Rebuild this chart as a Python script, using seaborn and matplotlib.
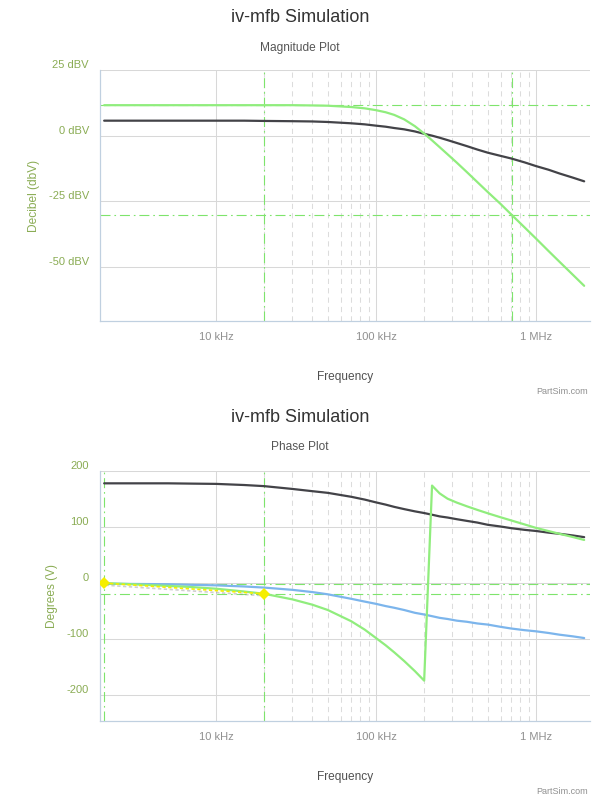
import pandas as pd
import matplotlib
matplotlib.use('Agg')
import matplotlib.pyplot as plt
import matplotlib.patheffects as pe
from matplotlib.ticker import NullFormatter
import seaborn as sns

freq = [2e3, 3e3, 5e3, 7e3, 10e3, 15e3, 20e3, 30e3, 40e3, 50e3, 70e3, 85e3,
        100e3, 115e3, 130e3, 150e3, 175e3, 200e3, 224e3, 250e3, 280e3, 320e3,
        370e3, 430e3, 500e3, 600e3, 700e3, 850e3, 1e6, 1.2e6, 1.4e6, 1.7e6, 2e6]

# magnitude (dBV)
mag_dark = [5.7, 5.7, 5.7, 5.7, 5.7, 5.7, 5.6, 5.5, 5.4, 5.2, 4.7, 4.3,
            3.8, 3.4, 2.9, 2.4, 1.6, 0.7, 0.0, -0.8, -1.7, -2.8,
            -4.0, -5.3, -6.5, -7.7, -8.7, -10.2, -11.6, -13.0, -14.4, -16.0, -17.4]
mag_green = [11.6, 11.6, 11.6, 11.6, 11.6, 11.6, 11.6, 11.6, 11.5, 11.4, 10.9, 10.4,
             9.7, 8.9, 7.9, 6.2, 3.6, 0.8, -1.8, -4.4, -7.1, -10.3,
             -13.9, -17.7, -21.5, -26.0, -30.0, -35.0, -39.2, -44.0, -48.0, -53.0, -57.2]

# phase (degrees)
phase_blue = [-1, -1.5, -2, -3, -4, -6, -8, -12, -16, -20, -28, -33,
              -37, -41, -44, -48, -53, -56, -59, -62, -64, -67,
              -69, -72, -74, -78, -81, -84, -86, -89, -92, -95, -98]
phase_dark = [178, 178, 178, 177.5, 177, 175, 173, 168, 164, 161, 154, 149,
              144, 140, 136, 132, 128, 125, 122, 119, 117, 114,
              111, 108, 104, 101, 98, 95, 93, 90, 88, 85, 82]
phase_green = [0, -2, -5, -7, -10, -15, -19, -29, -38.5, -48, -68, -83,
               -98, -111, -123.5, -139, -157, -174, 174, 160, 150.6, 143.6,
               137, 130.6, 124.5, 117.5, 111.8, 104.6, 98.5, 92.8, 88, 82.2, 77]

# cursors
mag_cursor_f = [20e3, 708e3]
mag_cursor_db = [11.6, -30.2]
phase_cursor_f = [2e3, 20e3]
phase_cursor_deg = [-1, -19]
phase_marker_deg = [0, -19]

xticks = [1e4, 1e5, 1e6]
xtick_labels = ['10 kHz', '100 kHz', '1 MHz']
minor_ticks = [20e3, 30e3, 40e3, 50e3, 60e3, 70e3, 80e3, 90e3,
               200e3, 300e3, 400e3, 500e3, 600e3, 700e3, 800e3, 900e3]
mag_ticks = [25, 0, -25, -50]
mag_tick_labels = ['25 dBV', '0 dBV', '-25 dBV', '-50 dBV']
phase_ticks = [200, 100, 0, -100, -200]
phase_tick_labels = ['200', '100', '0', '-100', '-200']

BLUE = '#7cb5ec'
DARK = '#434348'
GREEN = '#90ed7d'
CURSOR = '#7ee46c'
OLIVE = '#8aac54'

sns.set_style('white')
plt.rcParams['font.family'] = ['Liberation Sans', 'DejaVu Sans']

fig = plt.figure(figsize=(6, 8), dpi=100)
ax1 = fig.add_axes([100/600, 1-321/800, 490/600, 251/800])
ax2 = fig.add_axes([100/600, 1-721/800, 490/600, 250/800])


def style_axis(ax, ylim, ticks, labels, ylabel, ylabel_x):
    ax.set_xscale('log')
    ax.set_xlim(1884, 2.175e6)
    ax.set_ylim(*ylim)
    ax.set_xticks(xticks, labels=xtick_labels)
    ax.set_xticks(minor_ticks, minor=True)
    ax.xaxis.set_minor_formatter(NullFormatter())
    ax.set_yticks(ticks, labels=labels)
    ax.grid(which='major', color='#d8d8d8', lw=0.75)
    ax.grid(which='minor', axis='x', color='#dcdcdc', lw=0.75, linestyle=(0, (5, 4)))
    ax.set_axisbelow(True)
    for s in ['top', 'right']:
        ax.spines[s].set_visible(False)
    for s in ['left', 'bottom']:
        ax.spines[s].set_color('#c0d0e0')
        ax.spines[s].set_linewidth(0.9)
    ax.tick_params(axis='x', which='major', length=4, width=0.8, color='#c0d0e0',
                   labelcolor='#909090', labelsize=8, pad=4)
    ax.tick_params(axis='x', which='minor', length=0)
    ax.tick_params(axis='y', length=0, labelcolor=OLIVE, labelsize=8, pad=8)
    for lbl in ax.get_yticklabels():
        lbl.set_verticalalignment('bottom')
    ax.set_ylabel(ylabel, color=OLIVE, fontsize=8.6)
    ax.yaxis.set_label_coords(ylabel_x, 0.5)
    ax.set_xlabel('Frequency', color='#505050', fontsize=8.6)
    ax.xaxis.set_label_coords(0.5, -0.2)


def cursor_lines(ax, fs, ys):
    for f in fs:
        ax.axvline(f, color=CURSOR, lw=0.8, linestyle=(0, (9, 3.5, 1.5, 3.5)), zorder=1.5)
    for y in ys:
        ax.axhline(y, color=CURSOR, lw=0.8, linestyle=(0, (9, 3.5, 1.5, 3.5)), zorder=1.5)


# --- magnitude plot ---
mag = pd.DataFrame({'f': freq, 'dark': mag_dark, 'green': mag_green})
cursor_lines(ax1, mag_cursor_f, mag_cursor_db)
sns.lineplot(data=mag, x='f', y='dark', ax=ax1, color=DARK, lw=1.6, estimator=None, sort=False)
sns.lineplot(data=mag, x='f', y='green', ax=ax1, color=GREEN, lw=1.6, estimator=None, sort=False)
style_axis(ax1, (-70.6, 25), mag_ticks, mag_tick_labels, 'Decibel (dbV)', -0.123)

# --- phase plot ---
ph = pd.DataFrame({'f': freq, 'blue': phase_blue, 'dark': phase_dark, 'green': phase_green})
cursor_lines(ax2, phase_cursor_f, phase_cursor_deg)
sns.lineplot(data=ph, x='f', y='blue', ax=ax2, color=BLUE, lw=1.6, estimator=None, sort=False)
sns.lineplot(data=ph, x='f', y='dark', ax=ax2, color=DARK, lw=1.6, estimator=None, sort=False)
sns.lineplot(data=ph, x='f', y='green', ax=ax2, color=GREEN, lw=1.6, estimator=None, sort=False)
ax2.plot(phase_cursor_f, phase_marker_deg, color='#f5ee00', lw=1.2, linestyle=(0, (2, 1.5)),
         marker='D', markersize=6, markeredgewidth=0, zorder=5,
         path_effects=[pe.SimpleLineShadow(offset=(1, -1.5), shadow_color='#888888', alpha=0.4),
                       pe.Normal()])
style_axis(ax2, (-246, 200), phase_ticks, phase_tick_labels, 'Degrees (V)', -0.086)

# titles and credits
for top, sub, credit_y in [(18, 'Magnitude Plot', 392), (417, 'Phase Plot', 792)]:
    fig.text(0.5, 1 - top/800, 'iv-mfb Simulation', ha='center', va='center',
             fontsize=13, color='#333333')
    fig.text(0.5, 1 - (top + 30)/800, sub, ha='center', va='center',
             fontsize=8.6, color='#555555')
    fig.text(588/600, 1 - credit_y/800, 'PartSim.com', ha='right', va='center',
             fontsize=6.5, color='#909090')

fig.savefig('out.png', dpi=100)
